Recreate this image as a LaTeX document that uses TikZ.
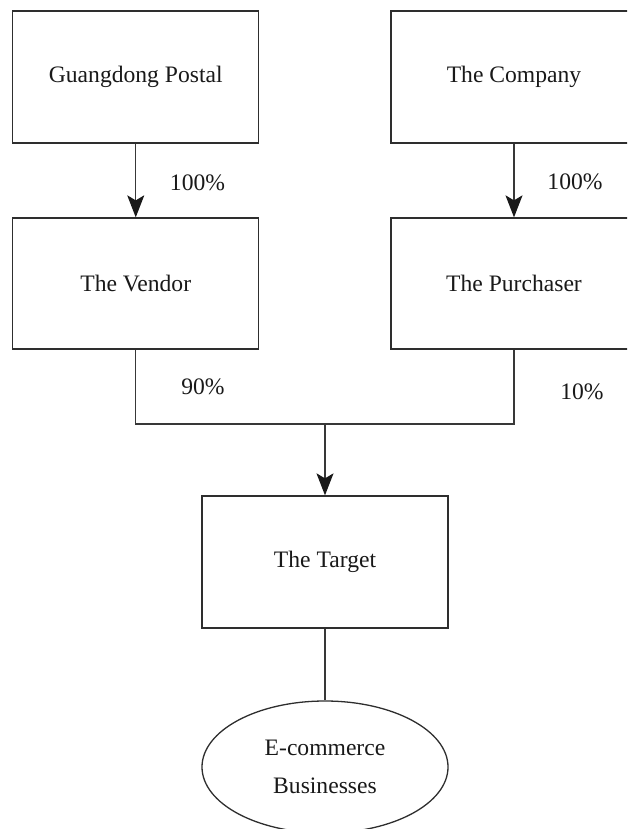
\documentclass[tikz,border=0pt]{standalone}
\usepackage{fontspec}
\setmainfont{Liberation Serif}
\usetikzlibrary{arrows.meta,shapes.geometric}
\tikzset{
  box/.style={draw=black!82, line width=1.3pt, rectangle, minimum width=246pt, minimum height=132pt, inner sep=0pt, font=\fontsize{23.6}{28}\selectfont, text=black!90},
  oval/.style={draw=black!82, line width=1.3pt, ellipse, minimum width=246pt, minimum height=132pt, inner sep=0pt, align=center, font=\fontsize{23.6}{38}\selectfont, text=black!90},
  pct/.style={inner sep=0pt, font=\fontsize{23.6}{28}\selectfont, text=black!90},
  link/.style={draw=black!78, line width=1.3pt},
  arr/.style={link, -{Stealth[length=22pt,width=17pt,inset=5pt,color=black!90]}}
}
\begin{document}
\begin{tikzpicture}[x=1pt,y=-1pt]
\useasboundingbox (0,0) rectangle (627,829);
\clip (0,0) rectangle (627,829);
\node[box] (gp) at (135.75,77) {Guangdong Postal};
\node[box] (co) at (514,77) {The Company};
\node[box, minimum height=131pt] (ve) at (135.75,283.5) {The Vendor};
\node[box, minimum height=131pt] (pu) at (514,283.5) {The Purchaser};
\node[box] (ta) at (325,562) {The Target};
\node[oval] (el) at (325,767) {E-commerce\\Businesses};
\coordinate (j) at (325,424);
\draw[arr] (gp.south) -- (ve.north);
\draw[arr] (co.south) -- (pu.north);
\draw[link] (ve.south) |- (j) -| (pu.south);
\draw[arr] (j) -- (ta.north);
\draw[link] (ta.south) -- (el.north);
\node[pct] (l1) at (197.5,183) {100\%};
\node[pct] (l2) at (575,182) {100\%};
\node[pct] (l3) at (203,387) {90\%};
\node[pct] (l4) at (582,392) {10\%};
\end{tikzpicture}
\end{document}
